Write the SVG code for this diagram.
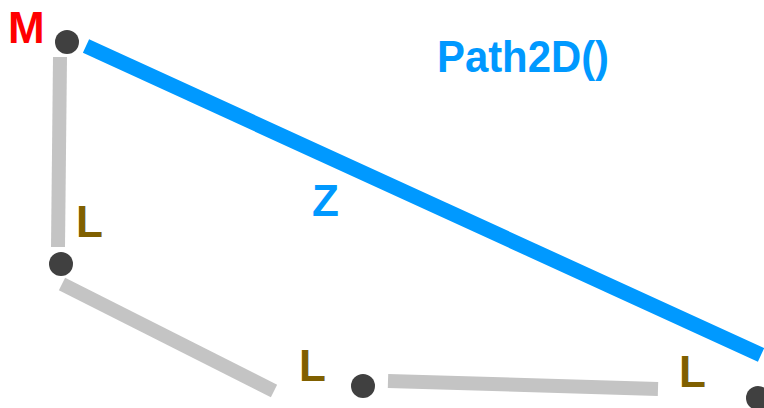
<svg xmlns="http://www.w3.org/2000/svg" width="764" height="408" viewBox="0 0 764 408">
<style>
.seg{stroke:#c4c4c4;stroke-width:14;fill:none}
.dot{fill:#404040}
.lbl{font-family:"Liberation Sans",Arial,sans-serif;font-weight:bold;font-size:44px}
.l{fill:#806000}
.blue{fill:#0099ff}
</style>
<rect width="764" height="408" fill="#ffffff"/>
<g id="connectors">
<line class="seg" x1="60" y1="57" x2="58" y2="247"/>
<line class="seg" x1="62" y1="284" x2="274" y2="391"/>
<line class="seg" x1="388" y1="381" x2="658" y2="389"/>
<line x1="86" y1="46" x2="761" y2="355" stroke="#0099ff" stroke-width="15"/>
</g>
<g id="nodeM"><circle class="dot" cx="67" cy="42" r="12"/><text class="lbl" x="8" y="43" fill="#ff0000">M</text></g>
<g id="nodeL1"><circle class="dot" cx="61" cy="264" r="12"/><text class="lbl l" x="76" y="237">L</text></g>
<g id="nodeL2"><circle class="dot" cx="363" cy="386" r="12"/><text class="lbl l" x="299" y="381">L</text></g>
<g id="nodeL3"><circle class="dot" cx="758" cy="398" r="12"/><text class="lbl l" x="679" y="387">L</text></g>
<g id="labelZ"><text class="lbl blue" x="312" y="216">Z</text></g>
<g id="title"><text class="lbl blue" x="437" y="72" textLength="172" lengthAdjust="spacingAndGlyphs">Path2D()</text></g>
</svg>
